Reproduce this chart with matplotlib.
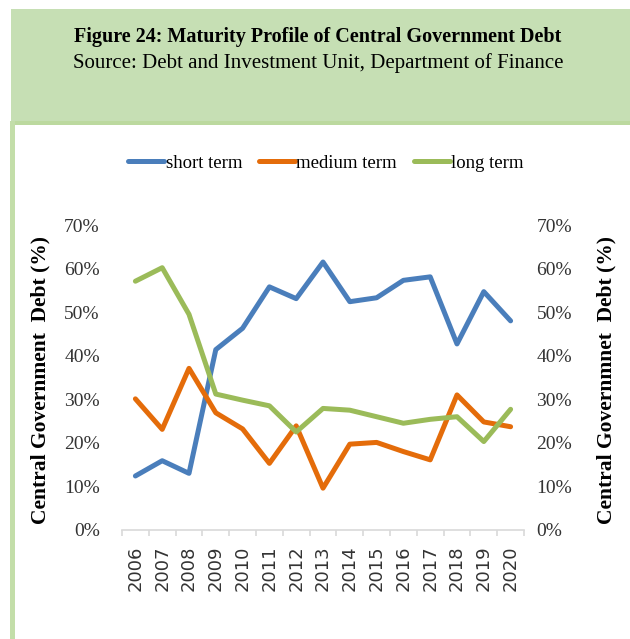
import numpy as np
import matplotlib.pyplot as plt
from matplotlib.patches import Rectangle
from matplotlib.ticker import FuncFormatter, MultipleLocator

# maturity shares of central government debt, per year
years = [str(y) for y in range(2006, 2021)]
short_term = [12.4, 15.9, 13.0, 41.4, 46.3, 55.8, 53.1, 61.5, 52.4, 53.3, 57.3, 58.1, 42.7, 54.7, 48.0]
medium_term = [30.1, 23.1, 37.1, 26.9, 23.2, 15.3, 23.9, 9.6, 19.7, 20.1, 18.0, 16.1, 31.0, 24.8, 23.7]
long_term = [57.1, 60.2, 49.5, 31.2, 29.8, 28.5, 22.5, 27.9, 27.5, 26.0, 24.5, 25.4, 26.0, 20.3, 27.7]

serif = 'Liberation Serif'

fig = plt.figure(figsize=(6.3, 6.39), dpi=100)
W, H = 630, 639

def fx(px):
    return px / W

def fy(py):
    return 1 - py / H

# green header band and frame
fig.patches.append(Rectangle((fx(11), fy(125)), 1 - fx(11), fy(9) - fy(125),
                             transform=fig.transFigure, facecolor='#c6dfb4',
                             edgecolor='none', zorder=0))
fig.patches.append(Rectangle((fx(11), fy(125)), 1 - fx(11), fy(121) - fy(125),
                             transform=fig.transFigure, facecolor='#bcd99f',
                             edgecolor='none', zorder=0))
fig.patches.append(Rectangle((fx(10), 0), fx(5), fy(121),
                             transform=fig.transFigure, facecolor='#c3dea9',
                             edgecolor='none', zorder=0))

fig.text(fx(318), fy(37), 'Figure 24: Maturity Profile of Central Government Debt',
         ha='center', va='center', fontsize=14.5, fontweight='bold', family=serif)
fig.text(fx(318), fy(63), 'Source: Debt and Investment Unit, Department of Finance',
         ha='center', va='center', fontsize=15, family=serif)

ax = fig.add_axes([fx(122), fy(530), fx(524) - fx(122), fy(225) - fy(530)])
x = np.arange(len(years))
ax.plot(x, short_term, color='#4a7ebb', lw=3.6, label='short term', solid_capstyle='round')
ax.plot(x, medium_term, color='#e46c0a', lw=3.6, label='medium term', solid_capstyle='round')
ax.plot(x, long_term, color='#9bbb59', lw=3.6, label='long term', solid_capstyle='round')

ax.set_xlim(-0.5, len(years) - 0.5)
ax.set_ylim(0, 70)
ax.yaxis.set_major_locator(MultipleLocator(10))
ax.yaxis.set_major_formatter(FuncFormatter(lambda v, p: '%d%%' % v))

for s in ['top', 'left', 'right']:
    ax.spines[s].set_visible(False)
ax.spines['bottom'].set_color('#d9d9d9')
ax.spines['bottom'].set_linewidth(1.2)

ax.set_xticks(x)
ax.set_xticklabels(years, rotation=90, fontsize=13, family='DejaVu Sans', color='#333333')
ax.set_xticks(np.arange(-0.5, len(years)), minor=True)
ax.tick_params(axis='x', which='major', length=0, pad=11)
ax.tick_params(axis='x', which='minor', length=4, color='#d9d9d9', width=1.2)
ax.tick_params(axis='y', length=0, pad=16, labelsize=14, labelcolor='#333333')
for lab in ax.get_yticklabels():
    lab.set_family(serif)

ax2 = ax.twinx()
ax2.set_ylim(0, 70)
ax2.yaxis.set_major_locator(MultipleLocator(10))
ax2.yaxis.set_major_formatter(FuncFormatter(lambda v, p: '%d%%' % v))
for s in ['top', 'left', 'right', 'bottom']:
    ax2.spines[s].set_visible(False)
ax2.tick_params(axis='y', length=0, pad=9, labelsize=14, labelcolor='#333333')
for lab in ax2.get_yticklabels():
    lab.set_family(serif)

fig.text(fx(40), fy(380), 'Central Government  Debt (%)', rotation=90,
         ha='center', va='center', fontsize=15.5, fontweight='bold', family=serif)
fig.text(fx(606), fy(380), 'Central Governmnet  Debt (%)', rotation=90,
         ha='center', va='center', fontsize=15.5, fontweight='bold', family=serif)

fig.legend(loc='center', bbox_to_anchor=(fx(326), fy(163)), ncol=3, frameon=False,
           prop={'family': serif, 'size': 13.5}, handlelength=1.9, handletextpad=0.1,
           columnspacing=0.9)

fig.savefig('out.png', dpi=100)
